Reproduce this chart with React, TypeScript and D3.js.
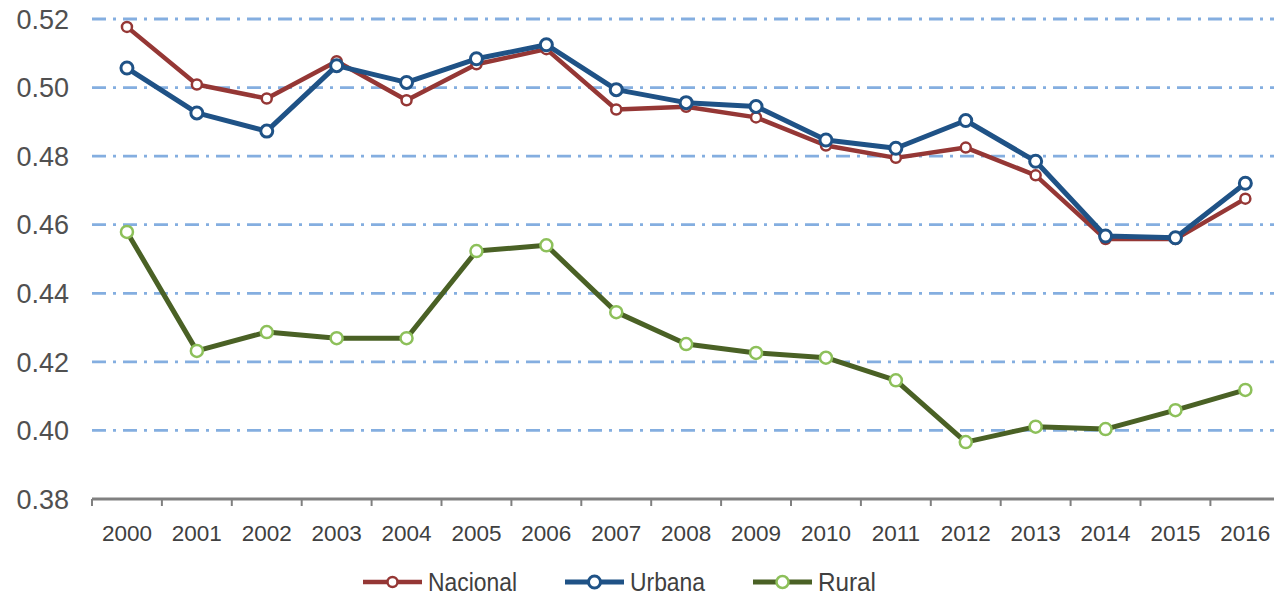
import { useEffect, useRef } from "react";
import * as d3 from "d3";

const years = [
  "2000", "2001", "2002", "2003", "2004", "2005", "2006", "2007", "2008",
  "2009", "2010", "2011", "2012", "2013", "2014", "2015", "2016",
];

const nacional = [
  0.5177, 0.5009, 0.4968, 0.5077, 0.4963, 0.5068, 0.5112, 0.4936, 0.4944,
  0.4913, 0.4831, 0.4795, 0.4825, 0.4744, 0.4558, 0.4558, 0.4676,
];
const urbana = [
  0.5057, 0.4926, 0.4873, 0.5064, 0.5015, 0.5084, 0.5125, 0.4994, 0.4956,
  0.4945, 0.4847, 0.4823, 0.4904, 0.4785, 0.4567, 0.4562, 0.4721,
];
const rural = [
  0.4579, 0.4232, 0.4287, 0.4269, 0.4269, 0.4523, 0.4540, 0.4345, 0.4252,
  0.4226, 0.4212, 0.4146, 0.3966, 0.4011, 0.4004, 0.4059, 0.4118,
];

const yTicks = [0.38, 0.4, 0.42, 0.44, 0.46, 0.48, 0.5, 0.52];

const SERIES = [
  { name: "Nacional", values: nacional, line: "#953735", marker: "#953735", lw: 4.5, r: 5, sw: 2.5, tw: 89 },
  { name: "Urbana", values: urbana, line: "#1F5286", marker: "#1F5286", lw: 5, r: 6, sw: 3, tw: 75 },
  { name: "Rural", values: rural, line: "#4A6125", marker: "#8DC05A", lw: 5, r: 6, sw: 2.5, tw: 58 },
];

export default function App() {
  const ref = useRef<SVGSVGElement>(null);

  useEffect(() => {
    if (!ref.current) return;
    const width = 1274;
    const height = 597;
    const left = 92;
    const step = 69.9;

    const svg = d3.select(ref.current);
    svg.selectAll("*").remove();

    const x = d3.scaleBand<string>()
      .domain(years)
      .range([left, left + step * years.length])
      .padding(0);
    const y = d3.scaleLinear().domain([0.38, 0.52]).range([499, 19]);
    const cx = (d: string) => (x(d) ?? 0) + x.bandwidth() / 2;

    svg.append("rect").attr("width", width).attr("height", height).attr("fill", "#fff");

    // gridlines
    svg.append("g")
      .selectAll("line")
      .data(yTicks.filter((t) => t > 0.38))
      .enter()
      .append("line")
      .attr("x1", left)
      .attr("x2", width)
      .attr("y1", (d) => y(d))
      .attr("y2", (d) => y(d))
      .attr("stroke", "#84AEE0")
      .attr("stroke-width", 2.8)
      .attr("stroke-dasharray", "14,7,3,7");

    // y labels
    svg.append("g")
      .selectAll("text")
      .data(yTicks)
      .enter()
      .append("text")
      .attr("x", 69)
      .attr("y", (d) => y(d))
      .attr("dy", "0.36em")
      .attr("text-anchor", "end")
      .style("font-family", "'Liberation Sans', Arial, sans-serif")
      .style("font-size", "27px")
      .style("fill", "#505050")
      .text((d) => d3.format(".2f")(d));

    // x axis
    const xAxis = svg.append("g");
    xAxis.append("line")
      .attr("x1", left)
      .attr("x2", width)
      .attr("y1", y(0.38))
      .attr("y2", y(0.38))
      .attr("stroke", "#808080")
      .attr("stroke-width", 3);
    xAxis.selectAll("line.tick")
      .data([...years, "end"])
      .enter()
      .append("line")
      .attr("class", "tick")
      .attr("x1", (d, i) => (i < years.length ? x(d)! : x.range()[1]))
      .attr("x2", (d, i) => (i < years.length ? x(d)! : x.range()[1]))
      .attr("y1", y(0.38))
      .attr("y2", y(0.38) + 7)
      .attr("stroke", "#808080")
      .attr("stroke-width", 2);
    xAxis.selectAll("text")
      .data(years)
      .enter()
      .append("text")
      .attr("x", (d) => cx(d))
      .attr("y", 541)
      .attr("text-anchor", "middle")
      .style("font-family", "'Liberation Sans', Arial, sans-serif")
      .style("font-size", "22.5px")
      .style("fill", "#404040")
      .text((d) => d);

    const line = d3.line<number>()
      .x((_, i) => cx(years[i]))
      .y((d) => y(d));

    SERIES.forEach((s) => {
      const g = svg.append("g");
      g.append("path")
        .datum(s.values)
        .attr("d", line)
        .attr("fill", "none")
        .attr("stroke", s.line)
        .attr("stroke-width", s.lw)
        .attr("stroke-linejoin", "round");
      g.selectAll("circle")
        .data(s.values)
        .enter()
        .append("circle")
        .attr("cx", (_, i) => cx(years[i]))
        .attr("cy", (d) => y(d))
        .attr("r", s.r)
        .attr("fill", "#fff")
        .attr("stroke", s.marker)
        .attr("stroke-width", s.sw);
    });

    // legend
    const legendX = [363, 565, 753];
    const legend = svg.append("g");
    SERIES.forEach((s, i) => {
      const lx = legendX[i];
      const ly = 582;
      legend.append("line")
        .attr("x1", lx)
        .attr("x2", lx + 59)
        .attr("y1", ly)
        .attr("y2", ly)
        .attr("stroke", s.line)
        .attr("stroke-width", s.lw);
      legend.append("circle")
        .attr("cx", lx + 29.5)
        .attr("cy", ly)
        .attr("r", s.r)
        .attr("fill", "#fff")
        .attr("stroke", s.marker)
        .attr("stroke-width", s.sw);
      legend.append("text")
        .attr("x", lx + 65)
        .attr("y", ly)
        .attr("dy", "0.36em")
        .attr("textLength", s.tw)
        .attr("lengthAdjust", "spacingAndGlyphs")
        .style("font-family", "'Liberation Sans', Arial, sans-serif")
        .style("font-size", "26px")
        .style("fill", "#404040")
        .text(s.name);
    });
  }, []);

  return (
    <svg
      ref={ref}
      width={1274}
      height={597}
      style={{ position: "absolute", left: 0, top: 0 }}
    />
  );
}
